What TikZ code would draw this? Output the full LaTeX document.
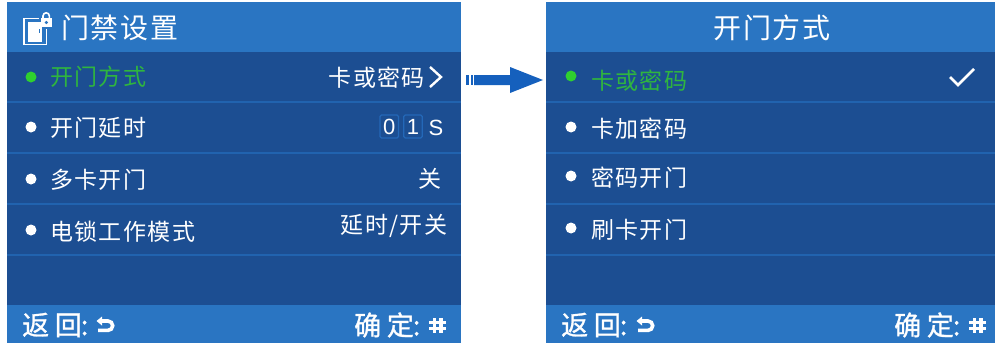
\documentclass[tikz,border=0pt]{standalone}
\usepackage{fontspec}
\setmainfont{Noto Sans CJK SC}
\newfontfamily\latinf{Liberation Sans}
\newfontfamily\cjkbody[LetterSpace=6]{Noto Sans CJK SC}
\newfontfamily\cjkfoot[LetterSpace=21,FakeBold=1]{Noto Sans CJK SC}
\definecolor{band}{HTML}{2A75C2}
\definecolor{body}{HTML}{1C4E92}
\definecolor{rule}{HTML}{2163AF}
\definecolor{boxline}{HTML}{2468B8}
\definecolor{dotgreen}{HTML}{2FD02F}
\definecolor{txtgreen}{HTML}{2FB53F}
\definecolor{arrowblue}{HTML}{1560BD}
\tikzset{x=1pt,y=-1pt,
  rowtext/.style={anchor=west,inner sep=0pt,text=white,font=\fontsize{23}{25}\selectfont\cjkbody},
  righttext/.style={anchor=east,inner sep=0pt,text=white,font=\fontsize{23}{25}\selectfont\cjkbody},
  titletext/.style={inner sep=0pt,text=white,font=\fontsize{28}{30}\selectfont\cjkbody},
  foottext/.style={anchor=west,inner sep=0pt,text=white,font=\fontsize{27}{29}\selectfont\cjkfoot},
  bullet/.style={circle,fill=white,inner sep=0pt,minimum size=11pt},
  digitbox/.style={draw=boxline,rounded corners=1.5pt,line width=1.2pt,minimum width=18.5pt,minimum height=23pt,inner sep=0pt,text=white,font=\fontsize{22}{24}\selectfont\latinf},
  sep/.style={draw=rule,line width=1.6pt},
  iconline/.style={draw=white,line width=3.6pt}
}
\begin{document}
\begin{tikzpicture}
\useasboundingbox (0,0) rectangle (995,345);
\fill[white] (0,0) rectangle (995,345);
% left panel
\fill[body] (7,2) rectangle (461,343);
\fill[band] (7,2) rectangle (461,52);
\fill[band] (7,305) rectangle (461,343);
\foreach \y in {102,153,204,255}{\draw[sep] (7,\y) -- (461,\y);}
% right panel
\fill[body] (546,2) rectangle (995,343);
\fill[band] (546,2) rectangle (995,52);
\fill[band] (546,305) rectangle (995,343);
\foreach \y in {102,153,204,255}{\draw[sep] (546,\y) -- (995,\y);}
% title icon
\draw[white,line width=1.8pt] (39,18.5) -- (24,18.5) -- (24,44.5) -- (46.5,44.5) -- (46.5,29);
\fill[white] (28,22) -- (42,22) -- (42,42) -- (28,42) -- cycle;
\fill[band] (38.5,29.5) rectangle (40,33);
\fill[white] (40.5,18) rectangle (52,27.5);
\draw[white,line width=1.6pt] (43,18.5) -- (43,16) arc[start angle=180,end angle=360,radius=3.2] -- (49.4,18.5);
\fill[band] (46.3,22.5) circle[radius=1.7];
% left texts
\node[titletext,anchor=west] (ltitle) at (61,28) {门禁设置};
\node[bullet,fill=dotgreen] (b1) at (31,77) {};
\node[rowtext,text=txtgreen] (t1) at (50,76.5) {开门方式};
\node[righttext] (v1) at (425,77.5) {卡或密码};
\draw[white,line width=2.4pt] (430,67) -- (441,77) -- (430,87);
\node[bullet] (b2) at (31,127) {};
\node[rowtext] (t2) at (50,128) {开门延时};
\node[digitbox] (d0) at (389.3,126.5) {0};
\node[digitbox] (d1) at (413,126.5) {1};
\node[inner sep=0pt,text=white,font=\fontsize{22}{24}\selectfont\latinf] (ds) at (436,127.5) {S};
\node[bullet] (b3) at (31,179) {};
\node[rowtext] (t3) at (50,180) {多卡开门};
\node[righttext] (v3) at (442,178.5) {关};
\node[bullet] (b4) at (31,230) {};
\node[rowtext] (t4) at (50,232) {电锁工作模式};
\node[righttext] (v4) at (447.5,226) {延时/开关};
\node[foottext] (lback) at (22,325) {返回\kern-1pt:};
\draw[iconline] (101,321) -- (108,321) arc[start angle=-90,end angle=90,radius=4.7] -- (98,330.4);
\fill[white] (96.5,321) -- (102,316.5) -- (102,325.5) -- cycle;
\node[foottext] (lok) at (354,325) {确定\kern-1pt:};
\foreach \x in {434.5,441}{\draw[iconline] (\x,318) -- (\x,333);}
\foreach \y in {322.5,328.5}{\draw[iconline] (429,\y) -- (446,\y);}
% arrow
\fill[arrowblue] (465.5,75) rectangle (469,85);
\fill[arrowblue] (470.5,75) rectangle (472.5,85);
\fill[arrowblue] (474,75) -- (510,75) -- (510,67) -- (543,80) -- (510,93) -- (510,85) -- (474,85) -- cycle;
% right texts
\node[titletext] (rtitle) at (772,28) {开门方式};
\node[bullet,fill=dotgreen] (r1) at (571,76) {};
\node[rowtext,text=txtgreen] (rt1) at (591,80.5) {卡或密码};
\draw[white,line width=2.8pt] (950,77) -- (958,85) -- (974,69);
\node[bullet] (r2) at (571,127) {};
\node[rowtext] (rt2) at (591,129) {卡加密码};
\node[bullet] (r3) at (571,176) {};
\node[rowtext] (rt3) at (591,178) {密码开门};
\node[bullet] (r4) at (571,228) {};
\node[rowtext] (rt4) at (591,230) {刷卡开门};
\node[foottext] (rback) at (561,325) {返回\kern-1pt:};
\draw[iconline] (641,321) -- (648,321) arc[start angle=-90,end angle=90,radius=4.7] -- (638,330.4);
\fill[white] (636.5,321) -- (642,316.5) -- (642,325.5) -- cycle;
\node[foottext] (rok) at (894,325) {确定\kern-1pt:};
\foreach \x in {974.5,981}{\draw[iconline] (\x,318) -- (\x,333);}
\foreach \y in {322.5,328.5}{\draw[iconline] (969,\y) -- (986,\y);}
\end{tikzpicture}
\end{document}
